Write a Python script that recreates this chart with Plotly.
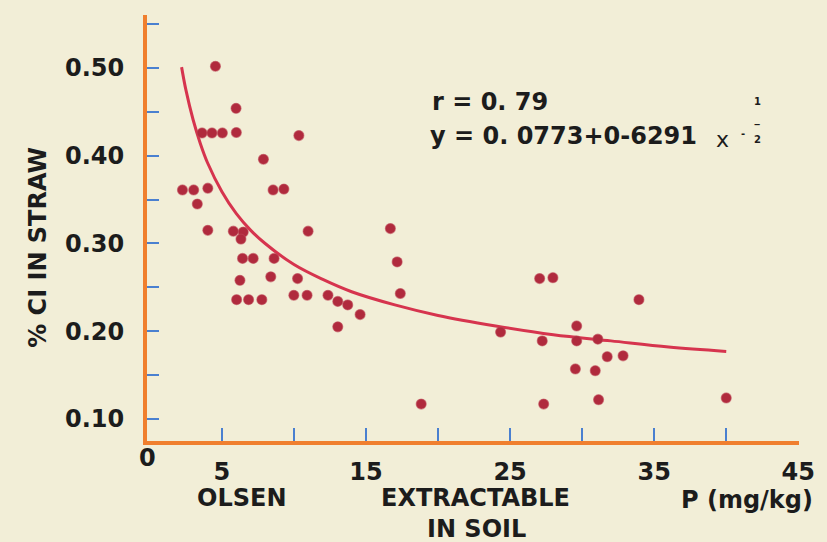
import plotly.graph_objects as go

# ---- data ----
olsen_p = [4.55, 5.98, 3.62, 4.31, 5.03, 6.00, 10.34, 7.88, 2.26, 3.04, 4.02, 3.29,
           8.55, 9.30, 4.02, 5.79, 6.48, 6.32, 10.98, 16.69, 17.16, 17.38, 6.43, 7.17,
           8.62, 6.25, 8.39, 10.25, 6.02, 6.85, 7.77, 9.99, 10.91, 12.36, 13.04, 13.73,
           14.59, 13.04, 24.34, 27.05, 27.97, 33.94, 29.62, 27.23, 29.62, 31.09, 31.74,
           32.84, 29.53, 30.91, 18.83, 27.33, 31.14, 40.00]
cl_straw = [0.502, 0.454, 0.426, 0.426, 0.426, 0.4265, 0.423, 0.396, 0.361, 0.361, 0.363, 0.345,
            0.361, 0.362, 0.315, 0.314, 0.313, 0.305, 0.314, 0.317, 0.279, 0.243, 0.283, 0.283,
            0.283, 0.258, 0.262, 0.260, 0.236, 0.236, 0.236, 0.241, 0.241, 0.241, 0.234, 0.230,
            0.219, 0.205, 0.199, 0.260, 0.261, 0.236, 0.206, 0.189, 0.189, 0.191, 0.171,
            0.172, 0.157, 0.155, 0.117, 0.117, 0.122, 0.124]

# fitted curve as drawn
curve_x = [2.2, 2.5, 3, 3.5, 4, 5, 6, 7, 8, 10, 12, 14, 17, 20, 24, 28, 32, 36, 40]
curve_y = [0.501, 0.475, 0.441, 0.414, 0.392, 0.359, 0.334, 0.315, 0.300, 0.276,
           0.259, 0.245, 0.230, 0.218, 0.206, 0.196, 0.189, 0.182, 0.177]

x_ticks = [5, 10, 15, 20, 25, 30, 35, 40, 45]
x_ticktext = ["5", "", "15", "", "25", "", "35", "", "45"]
y_ticks = [0.10, 0.15, 0.20, 0.25, 0.30, 0.35, 0.40, 0.45, 0.50, 0.55]
y_ticktext = ["0.10", "", "0.20", "", "0.30", "", "0.40", "", "0.50", ""]

BG = "#F2EED7"
ORANGE = "#F07F2E"
BLUE = "#4A80D0"
TXT = "#1c1c1c"
FONT = "DejaVu Sans"

W, H = 827, 542
L, R, T, B = 147, 23, 15, 101
PW, PH = W - L - R, H - T - B


def px(xp, yp):
    return (xp - L) / PW, (H - B - yp) / PH


fig = go.Figure()
fig.add_trace(go.Scatter(x=curve_x, y=curve_y, mode="lines", line_shape="spline",
                         line=dict(color="#D6344E", width=3), hoverinfo="skip"))
fig.add_trace(go.Scatter(x=olsen_p, y=cl_straw, mode="markers",
                         marker=dict(color="#B02A3D", size=10,
                                     line=dict(color="rgba(190,70,85,0.55)", width=1.2))))

ann = []


def add_text(text, xp, yp, size=24, weight=700, angle=0, pad=1):
    ax, ay = px(xp, yp)
    ann.append(dict(text=text, x=ax, y=ay, xref="paper", yref="paper", showarrow=False,
                    xanchor="center", yanchor="middle", textangle=angle, borderpad=pad,
                    font=dict(family=FONT, size=size, color=TXT, weight=weight)))


add_text("0", 147.5, 457.5)
add_text("OLSEN", 242.5, 498)
add_text("EXTRACTABLE", 478, 498)
add_text("IN SOIL", 479.5, 529)
add_text("P (mg/kg)", 752, 500)
add_text("% CI IN STRAW", 37, 247, angle=-90)
add_text("r = 0. 79", 492.5, 102)
add_text("y = 0. 0773+0-6291", 567, 136)
add_text("x", 726.5, 139, size=22, weight=400)
add_text("-", 748, 133, size=10, weight=700, pad=0)
add_text("1", 762, 102, size=10, weight=700, pad=0)
add_text("\u2012", 762, 124, size=9, weight=700, pad=0)
add_text("2", 762, 139, size=10, weight=700, pad=0)

fig.update_layout(
    width=W, height=H,
    margin=dict(l=L, r=R, t=T, b=B, pad=0),
    paper_bgcolor=BG, plot_bgcolor=BG,
    showlegend=False,
    annotations=ann,
    xaxis=dict(range=[-0.2, 45.05], showgrid=False, zeroline=False,
               showline=True, linecolor=ORANGE, linewidth=4,
               tickmode="array", tickvals=x_ticks, ticktext=x_ticktext,
               ticks="inside", ticklen=13, tickwidth=2, tickcolor=BLUE,
               ticklabelstandoff=6,
               tickfont=dict(family=FONT, size=24, color=TXT, weight=700)),
    yaxis=dict(range=[0.0749, 0.5604], showgrid=False, zeroline=False,
               showline=True, linecolor=ORANGE, linewidth=4,
               tickmode="array", tickvals=y_ticks, ticktext=y_ticktext,
               ticks="inside", ticklen=12, tickwidth=2, tickcolor=BLUE,
               ticklabelstandoff=14,
               tickfont=dict(family=FONT, size=24, color=TXT, weight=700)),
)

fig.write_html("out.html", config={"displayModeBar": False})
